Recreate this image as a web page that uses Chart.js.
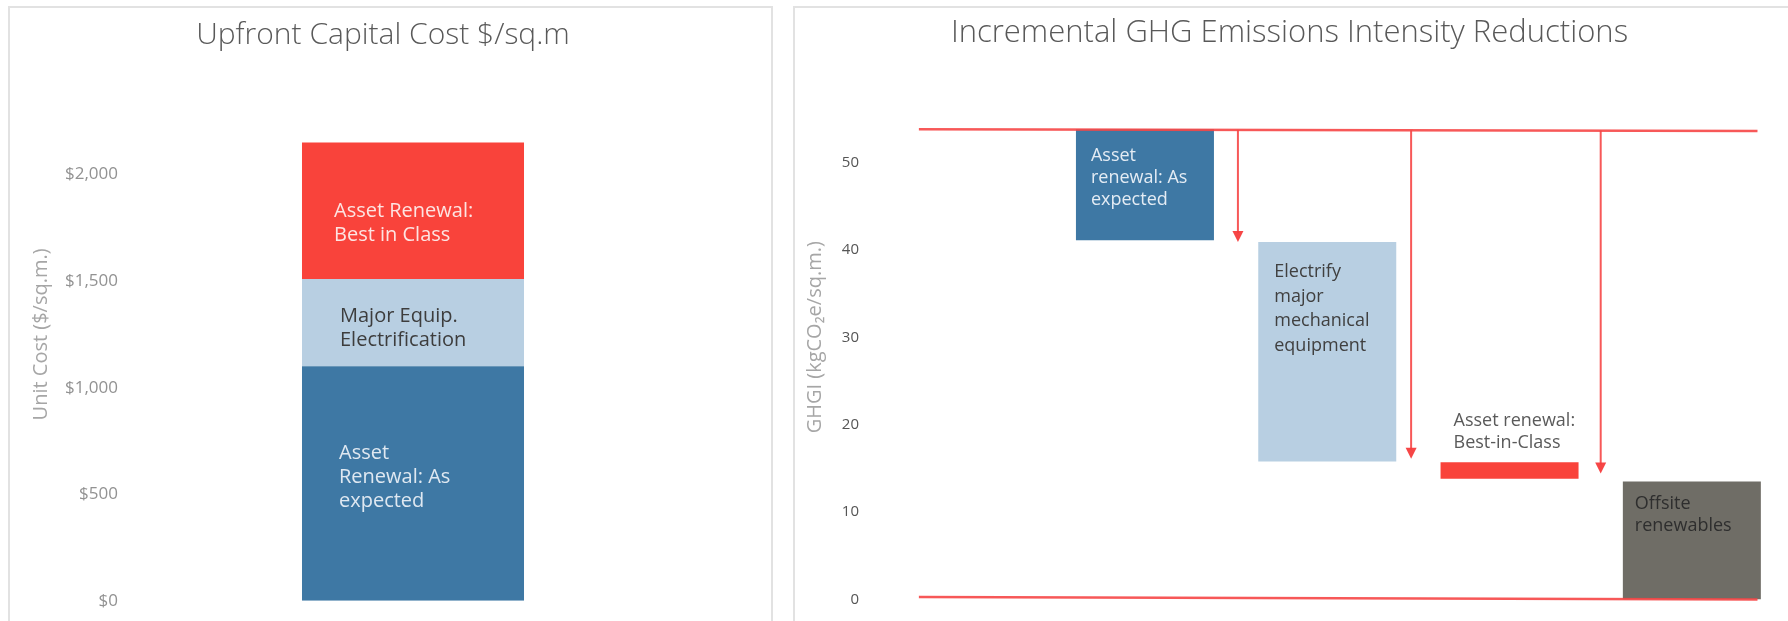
<!DOCTYPE html>
<html><head><meta charset="utf-8">
<script src="https://cdn.jsdelivr.net/npm/chart.js@4.4.1/dist/chart.umd.min.js"></script>
<style>
html,body{margin:0;padding:0;background:#fff;width:1788px;height:621px;overflow:hidden;position:relative}
.panel{position:absolute;border:2px solid #e2e2e2;box-sizing:border-box}
canvas{position:absolute}
</style></head><body>
<div class="panel" style="left:8px;top:6px;width:765px;height:700px"></div>
<div class="panel" style="left:793px;top:6px;width:1100px;height:700px"></div>
<canvas id="cost" width="746" height="613" style="left:10px;top:8px"></canvas>
<canvas id="ghg" width="1009" height="613" style="left:796px;top:8px"></canvas>
<script>
// ---------- Data: upfront capital cost ----------
const costCategories = ['Upfront Capital Cost'];
const costSeries = ['Asset Renewal: As expected', 'Major Equip. Electrification', 'Asset Renewal: Best in Class'];
const costValues = [1100, 410, 640];
const costLabelLines = [['Asset', 'Renewal: As', 'expected'], ['Major Equip.', 'Electrification'], ['Asset Renewal:', 'Best in Class']];
const costTicks = [0, 500, 1000, 1500, 2000];

// ---------- Data: GHG intensity waterfall ----------
const ghgCategories = ['', 'Asset renewal: As expected', 'Electrify major mechanical equipment', 'Asset renewal: Best-in-Class', 'Offsite renewables'];
const ghgLow = [null, 41.1, 15.8, 13.8, 0];
const ghgHigh = [null, 53.8, 40.9, 15.7, 13.5];
const ghgLabelLines = [[], ['Asset', 'renewal: As', 'expected'], ['Electrify', 'major', 'mechanical', 'equipment'], ['Asset renewal:', 'Best-in-Class'], ['Offsite', 'renewables']];
const ghgTicks = [0, 10, 20, 30, 40, 50];
const baselineLevels = [53.8, 53.6];   // starting GHGI line (left end, right end)
const zeroLevels = [0.3, 0];           // target line
const lineSpan = [-0.24, 4.36];        // category-index span of the two lines
const arrowAt = [1.51, 2.46, 3.5];     // category-index positions of arrows
const arrowTo = [40.9, 16.1, 14.4];    // GHGI level reached by each arrow

const FONT = "'Open Sans', 'Noto Sans', sans-serif";
Chart.defaults.font.family = FONT;

function makeBarText(items) {
  return {
    id: 'barText',
    afterDatasetsDraw(chart) {
      const ctx = chart.ctx;
      items.forEach(it => {
        const el = chart.getDatasetMeta(it.dataset).data[it.index];
        if (!el) return;
        const p = el.getProps(['x', 'y', 'base', 'width'], true);
        const left = p.x - p.width / 2;
        const top = Math.min(p.y, p.base);
        ctx.save();
        ctx.font = (it.weight || 400) + ' ' + it.size + 'px ' + FONT;
        ctx.fillStyle = it.color;
        ctx.textAlign = 'left';
        ctx.textBaseline = 'middle';
        it.lines.forEach((ln, k) => ctx.fillText(ln, left + it.dx, top + it.dy + k * it.lh));
        ctx.restore();
      });
    }
  };
}

// ---------- Left chart ----------
const costColors = ['#3e78a4', '#b8cfe2', '#f9433b'];
const costText = [
  {dataset: 0, index: 0, lines: costLabelLines[0], color: '#dfe8f1', size: 20, dx: 37, dy: 87, lh: 24},
  {dataset: 1, index: 0, lines: costLabelLines[1], color: '#3d3d3d', size: 20, dx: 38, dy: 37, lh: 24},
  {dataset: 2, index: 0, lines: costLabelLines[2], color: '#fde4e2', size: 20, dx: 32, dy: 69, lh: 24}
];
new Chart(document.getElementById('cost'), {
  type: 'bar',
  data: {
    labels: costCategories,
    datasets: costSeries.map((name, i) => ({
      label: name, data: [costValues[i]], backgroundColor: costColors[i],
      borderWidth: 0, barPercentage: 0.3895, categoryPercentage: 1
    }))
  },
  options: {
    responsive: false, animation: false,
    layout: {padding: {left: 0, right: 0, top: 0, bottom: 19}},
    plugins: {
      legend: {display: false}, tooltip: {enabled: false},
      title: {display: true, text: 'Upfront Capital Cost $/sq.m', color: '#595959',
        font: {size: 30, weight: 300}, padding: {top: 9, bottom: 15}}
    },
    scales: {
      x: {stacked: true, display: false},
      y: {
        stacked: true, min: 0, max: 2500, position: 'left',
        grid: {display: false, drawTicks: false}, border: {display: false},
        ticks: {padding: 10, color: '#929292', font: {size: 17},
          callback: v => '$' + Number(v).toLocaleString('en-US')},
        afterBuildTicks: s => { s.ticks = costTicks.map(v => ({value: v})); },
        afterFit: s => { s.width = 118; },
        title: {display: true, text: 'Unit Cost ($/sq.m.)', color: '#a6a6a6', font: {size: 20}, padding: {top: 19, bottom: 0}}
      },
      pad: {type: 'linear', axis: 'y', position: 'right', display: true,
        grid: {display: false, drawTicks: false}, border: {display: false}, ticks: {display: false},
        afterFit: s => { s.width = 58; }}
    }
  },
  plugins: [makeBarText(costText)]
});

// ---------- Right chart ----------
const ghgColors = ['rgba(0,0,0,0)', '#3e78a4', '#b8cfe2', '#f9433b', '#6f6d66'];
const ghgText = [
  {dataset: 0, index: 1, lines: ghgLabelLines[1], color: '#e4ecf4', size: 18, dx: 15, dy: 27, lh: 22},
  {dataset: 0, index: 2, lines: ghgLabelLines[2], color: '#404040', size: 18, dx: 16, dy: 30, lh: 24.5},
  {dataset: 0, index: 3, lines: ghgLabelLines[3], color: '#5a5a5a', size: 18, dx: 13, dy: -41, lh: 21.5},
  {dataset: 0, index: 4, lines: ghgLabelLines[4], color: '#2e2e2e', size: 18, dx: 12, dy: 22, lh: 22}
];
const ghgLinesPlugin = {
  id: 'ghgLines',
  afterDatasetsDraw(chart) {
    const {ctx, scales: {x, y}} = chart;
    const px = v => x.getPixelForValue(v), py = v => y.getPixelForValue(v);
    const levelAt = (lv, t) => lv[0] + (lv[1] - lv[0]) * (t - lineSpan[0]) / (lineSpan[1] - lineSpan[0]);
    ctx.save();
    ctx.strokeStyle = 'rgba(246,70,70,0.9)';
    ctx.fillStyle = 'rgba(246,60,60,0.95)';
    ctx.lineWidth = 2.5;
    [baselineLevels, zeroLevels].forEach(lv => {
      ctx.beginPath();
      ctx.moveTo(px(lineSpan[0]), py(lv[0]));
      ctx.lineTo(px(lineSpan[1]), py(lv[1]));
      ctx.stroke();
    });
    ctx.lineWidth = 2;
    arrowAt.forEach((a, i) => {
      const x0 = px(a), y0 = py(levelAt(baselineLevels, a)), y1 = py(arrowTo[i]);
      ctx.beginPath(); ctx.moveTo(x0, y0); ctx.lineTo(x0, y1 - 9); ctx.stroke();
      ctx.beginPath(); ctx.moveTo(x0 - 5.5, y1 - 11); ctx.lineTo(x0 + 5.5, y1 - 11); ctx.lineTo(x0, y1); ctx.closePath(); ctx.fill();
    });
    ctx.restore();
  }
};
new Chart(document.getElementById('ghg'), {
  type: 'bar',
  data: {
    labels: ghgCategories,
    datasets: [{
      label: 'GHGI', data: ghgLow.map((l, i) => l === null ? null : [l, ghgHigh[i]]),
      backgroundColor: ghgColors, borderWidth: 0, barPercentage: 0.757, categoryPercentage: 1
    }]
  },
  options: {
    responsive: false, animation: false,
    layout: {padding: {left: 0, right: 22, top: 0, bottom: 19}},
    plugins: {
      legend: {display: false}, tooltip: {enabled: false},
      title: {display: true, text: 'Incremental GHG Emissions Intensity Reductions', color: '#595959',
        font: {size: 31, weight: 300}, padding: {top: 6.4, bottom: 23.4}}
    },
    scales: {
      x: {display: false},
      y: {
        min: 0, max: 60, grid: {display: false, drawTicks: false}, border: {display: false},
        ticks: {padding: 12.5, color: '#555555', font: {size: 15}},
        afterBuildTicks: s => { s.ticks = ghgTicks.map(v => ({value: v})); },
        afterFit: s => { s.width = 75.5; },
        title: {display: true, text: 'GHGI (kgCO\u2082e/sq.m.)', color: '#a6a6a6', font: {size: 20}, padding: {top: 7, bottom: 0}}
      }
    }
  },
  plugins: [makeBarText(ghgText), ghgLinesPlugin]
});
</script>
</body></html>
